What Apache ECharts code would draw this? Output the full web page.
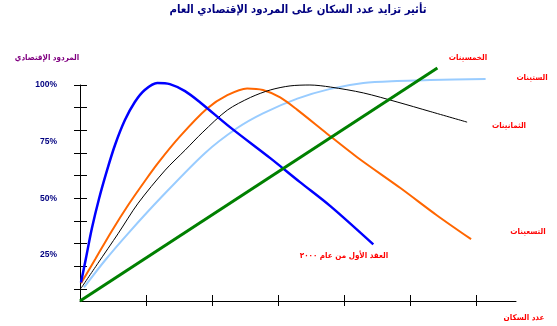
<!DOCTYPE html>
<html><head><meta charset="utf-8">
<script src="https://cdn.jsdelivr.net/npm/echarts@6/dist/echarts.min.js"></script>
<style>html,body{margin:0;padding:0;background:#fff}#c{width:557px;height:326px}</style>
</head><body><div id="c"></div>
<script>
// Data (x: population units, y: economic return %)
const s2000s = [[0.015,12.8],[0.09,23.5],[0.18,36.7],[0.29,50],[0.41,62.4],[0.53,73.5],[0.68,84.5],[0.83,92.5],[0.98,97.8],[1.17,100.9],[1.36,100.4],[1.59,97.3],[1.82,92.3],[2.27,81.4],[2.88,67.7],[3.33,57.1],[3.79,46.5],[4.44,29.6]];
const s1990s = [[0.015,12.4],[0.23,23],[0.47,35],[0.73,47],[0.98,57.5],[1.18,65.5],[1.52,77.5],[1.92,89.5],[2.23,95.5],[2.53,98.5],[2.77,97.8],[3.03,94.5],[3.29,89],[3.74,78.5],[4.2,68],[4.85,54.5],[5.4,42.5],[5.92,31.9]];
const s1980s = [[0.015,10.2],[0.27,21.2],[0.58,34.5],[0.88,47.8],[1.29,62.4],[1.59,71.2],[1.86,79.2],[2.23,88.9],[2.58,94.5],[2.88,97.8],[3.18,99.6],[3.48,100],[3.79,99.1],[4.29,96.5],[4.80,92.5],[5.30,88.3],[5.86,83.6]];
const s1960s = [[0.06,10.6],[0.38,22.6],[0.73,34.5],[1.23,50.4],[1.89,69.9],[2.38,81],[2.77,87.5],[3.29,94],[3.79,98.3],[4.29,100.9],[4.80,101.8],[5.30,102.2],[6.14,102.7]];
const s1950s = [[0,4.6],[5.41,107.5]];
const xTicks = [1,2,3,4,5,6];
const yTicks = [10,20,30,40,50,60,70,80,90,100];
const yTickLabels = [25,50,75,100];
const titleText = 'تأثير تزايد عدد السكان على المردود الإقتصادي العام';
const yName = 'المردود الإقتصادي';
const xName = 'عدد السكان';
const seriesNames = ['الخمسينات','الستينات','الثمانينات','التسعينات','العقد الأول من عام ٢٠٠٠'];

const chart = echarts.init(document.getElementById('c'), null, {renderer:'canvas'});
const AR = 'DejaVu Sans Condensed';
function txt(t, x, y, color, size){
  return {type:'text', x:x, y:y, style:{text:t, fill:color, font:'bold '+size+'px "'+AR+'", "DejaVu Sans"', textAlign:'center', textVerticalAlign:'middle'}};
}
const axisCommon = {min:4.6, max:100};
function line(name, data, color, width, smooth){
  return {name:name, type:'line', data:data, smooth:smooth, symbol:'none', clip:false, lineStyle:{color:color, width:width}};
}
chart.setOption({
  animation:false,
  grid:{left:80, right:41, top:85, bottom:25},
  xAxis:[
    {type:'value', min:0, max:6.6, splitLine:{show:false},
     axisLine:{lineStyle:{color:'#000', width:1}},
     axisTick:{show:true, customValues:xTicks, length:5, lineStyle:{color:'#000'}},
     axisLabel:{show:false}},
    {type:'value', min:0, max:6.6, position:'bottom', splitLine:{show:false},
     axisLine:{show:false},
     axisTick:{show:true, inside:true, customValues:xTicks, length:6, lineStyle:{color:'#000'}},
     axisLabel:{show:false}}
  ],
  yAxis:[
    {type:'value', min:axisCommon.min, max:axisCommon.max, splitLine:{show:false},
     axisLine:{show:true, lineStyle:{color:'#000', width:1}},
     axisTick:{show:true, customValues:yTicks, length:6, lineStyle:{color:'#000'}},
     axisLabel:{show:true, customValues:yTickLabels, formatter:'{value}%', margin:23, color:'#000080', fontSize:8.5, fontWeight:'bold', fontFamily:'Liberation Sans'}},
    {type:'value', min:axisCommon.min, max:axisCommon.max, position:'left', splitLine:{show:false},
     axisLine:{show:false},
     axisTick:{show:true, inside:true, customValues:yTicks, length:7, lineStyle:{color:'#000'}},
     axisLabel:{show:false}}
  ],
  series:[
    line(seriesNames[1], s1960s, '#99CCFF', 2, 0.3),
    line(seriesNames[3], s1990s, '#FF6600', 2, 0.3),
    line(seriesNames[2], s1980s, '#000000', 1, 0.3),
    line(seriesNames[4], s2000s, '#0000FF', 2.5, 0.3),
    line(seriesNames[0], s1950s, '#008000', 3, false)
  ],
  graphic:[
    txt(titleText, 298, 10, '#000080', 11.3),
    txt(yName, 47, 58, '#800080', 8),
    txt(seriesNames[0], 468, 58, '#FF0000', 8),
    txt(seriesNames[1], 532, 78, '#FF0000', 8),
    txt(seriesNames[2], 509, 126, '#FF0000', 8),
    txt(seriesNames[3], 528, 232, '#FF0000', 8),
    txt(seriesNames[4], 344, 256, '#FF0000', 8),
    txt(xName, 524, 318, '#FF0000', 8)
  ]
});
</script></body></html>
